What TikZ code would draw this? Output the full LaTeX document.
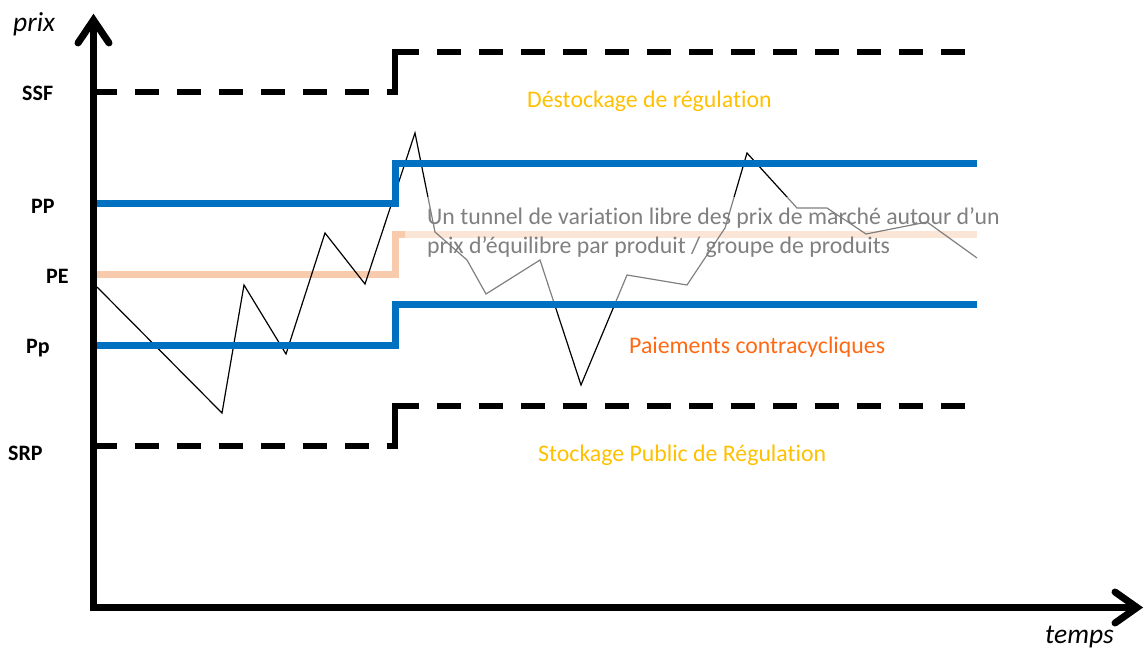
\documentclass[tikz,border=0pt]{standalone}
\usepackage{fontspec}
\setmainfont{Carlito}[Ligatures=NoCommon]
\definecolor{pblue}{HTML}{0070C0}
\definecolor{peach}{HTML}{F8CBAD}
\definecolor{gold}{HTML}{FFC000}
\definecolor{orng}{RGB}{255,105,20}
\definecolor{txtgray}{RGB}{128,128,128}
\tikzset{
  axisline/.style={line width=7pt, black},
  arrowarm/.style={line width=7pt, black, line cap=round, line join=miter},
  bluestep/.style={line width=7pt, pblue, line join=miter},
  peachstep/.style={line width=7pt, peach, line join=miter},
  dashseg/.style={line width=5.5pt, black, dash pattern=on 24pt off 18pt},
  solidseg/.style={line width=5.5pt, black, line join=miter},
  price/.style={line width=1.2pt, black, line join=miter},
  veil/.style={fill=white, opacity=0.5},
  lbl/.style={anchor=base west, inner sep=0pt, font=\fontsize{22}{26}\selectfont\bfseries},
  axlbl/.style={anchor=base west, inner sep=0pt, font=\fontsize{27.5}{33}\selectfont\itshape},
  bodytxt/.style={anchor=base west, inner sep=0pt, font=\fontsize{23.8}{29}\selectfont}
}
\begin{document}
\begin{tikzpicture}[x=1pt,y=-1pt]
\useasboundingbox (0,0) rectangle (1147,650);

% peach (equilibrium price) step
\draw[peachstep] (97,274.5) -- (395,274.5) -- (395,234.5) -- (977,234.5);

% market price polyline
\draw[price] (97,287) -- (222,413) -- (244,285) -- (286,354) -- (325,233)
  -- (365,284) -- (415,133) -- (435,232) -- (467,260) -- (486,294)
  -- (540,260) -- (581,385) -- (627,275) -- (687,285) -- (725,228)
  -- (747,153) -- (797,208) -- (827,208) -- (866,234) -- (927,222)
  -- (977,258);

% semi-transparent text box
\fill[veil] (405,197) rectangle (1000,301);

% blue steps (PP and Pp)
\draw[bluestep] (97,203.5) -- (395,203.5) -- (395,163.5) -- (977,163.5);
\draw[bluestep] (97,345.5) -- (395,345.5) -- (395,304.5) -- (977,304.5);

% SSF dashed step
\draw[dashseg] (93,92) -- (395,92);
\draw[solidseg] (395,94.75) -- (395,52) -- (419,52);
\draw[dashseg] (437,52) -- (975,52);

% SRP dashed step
\draw[dashseg] (93,446) -- (395,446);
\draw[solidseg] (395,448.75) -- (395,406) -- (419,406);
\draw[dashseg] (437,406) -- (975,406);

% axes
\coordinate (origin) at (93.5,611);
\coordinate (ytip) at (93.5,20);
\coordinate (xstart) at (90,607.5);
\coordinate (xtip) at (1137,607.5);
\draw[axisline] (origin) -- (ytip);
\draw[axisline] (xstart) -- (xtip);
\draw[arrowarm] (78,43) -- (ytip) -- (109,43);
\draw[arrowarm] (1115,592) -- (xtip) -- (1115,623);

% axis labels
\node[axlbl] (prix) at (13,32) {prix};
\node[axlbl] (temps) at (1045,643) {temps};

% level labels
\node[lbl] (ssf) at (22,100) {SSF};
\node[lbl] (pph) at (31,213) {PP};
\node[lbl] (pe) at (46,283) {PE};
\node[lbl] (ppl) at (26,353) {Pp};
\node[lbl] (srp) at (8,460) {SRP};

% zone texts
\node[bodytxt, text=gold] (destock) at (527,107) {Déstockage de régulation};
\node[bodytxt, text=txtgray] (tunnel1) at (427,224) {Un tunnel de variation libre des prix de marché autour d’un};
\node[bodytxt, text=txtgray] (tunnel2) at (427,253.5) {prix d’équilibre par produit / groupe de produits};
\node[bodytxt, text=orng] (paiem) at (629,353) {Paiements contracycliques};
\node[bodytxt, text=gold] (stock) at (538,461) {Stockage Public de Régulation};
\end{tikzpicture}
\end{document}
